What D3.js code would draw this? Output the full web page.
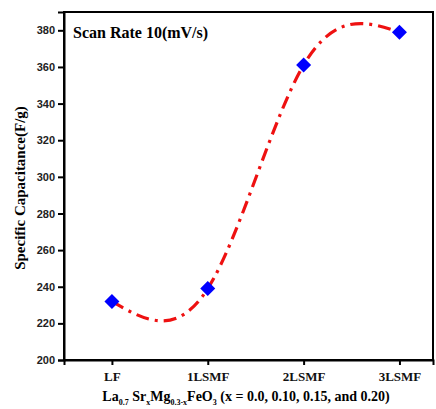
<!DOCTYPE html>
<html><head><meta charset="utf-8">
<script src="https://cdn.jsdelivr.net/npm/d3@7"></script>
<style>body{margin:0;background:#fff}</style>
</head><body><svg id="c" width="436" height="409"></svg>
<script>
const categories = ["LF", "1LSMF", "2LSMF", "3LSMF"];
const capacitance = [232, 239, 361, 379];
const yTicks = [200, 220, 240, 260, 280, 300, 320, 340, 360, 380];

const svg = d3.select("#c");
const L = 64, R = 433, T = 12, B = 360;
const x = d3.scaleLinear().domain([-0.5, 3.35]).range([L, R]);
const y = d3.scaleLinear().domain([200, 390]).range([B, T]);

// frame
svg.append("rect").attr("x", L).attr("y", T).attr("width", R - L).attr("height", B - T)
  .attr("fill", "none").attr("stroke", "#000").attr("stroke-width", 2);

// y axis
const ya = svg.append("g").attr("transform", `translate(${L},0)`)
  .call(d3.axisLeft(y).tickValues(yTicks).tickSize(6).tickPadding(3));
ya.select(".domain").attr("stroke-width", 2);
ya.selectAll(".tick line").attr("stroke-width", 2);
ya.selectAll("text").attr("font-family", "Liberation Sans, Arial").attr("font-weight", "bold")
  .attr("font-size", 11).attr("fill", "#222");

// x axis
const xa = svg.append("g").attr("transform", `translate(0,${B})`)
  .call(d3.axisBottom(x).tickValues(d3.range(categories.length)).tickFormat(i => categories[i]).tickSize(5).tickPadding(7));
xa.select(".domain").attr("stroke-width", 2);
xa.selectAll(".tick line").attr("stroke-width", 2);
xa.selectAll("text").attr("font-family", "Liberation Serif, Times New Roman").attr("font-weight", "bold")
  .attr("font-size", 13).attr("fill", "#111");

// curve
const line = d3.line().x((d, i) => x(i)).y(d => y(d)).curve(d3.curveNatural);
svg.append("path").datum(capacitance).attr("d", line).attr("fill", "none")
  .attr("stroke", "#ee1111").attr("stroke-width", 3.2)
  .attr("stroke-dasharray", "13,6,3,6").attr("stroke-linecap", "butt");

// markers
svg.selectAll(".m").data(capacitance).enter().append("path")
  .attr("transform", (d, i) => `translate(${x(i)},${y(d)})`)
  .attr("d", "M0,-7.5L7.5,0L0,7.5L-7.5,0Z").attr("fill", "#0000ff");

// annotation
svg.append("text").attr("x", 73).attr("y", 38).text("Scan Rate 10(mV/s)")
  .attr("font-family", "Liberation Serif, Times New Roman").attr("font-weight", "bold").attr("font-size", 16);

// y label
svg.append("text").attr("transform", "translate(25,188) rotate(-90)").attr("text-anchor", "middle")
  .text("Specific Capacitance(F/g)")
  .attr("font-family", "Liberation Serif, Times New Roman").attr("font-weight", "bold").attr("font-size", 15);

// x label with subscripts
const xl = svg.append("text").attr("x", 246).attr("y", 401).attr("text-anchor", "middle")
  .attr("font-family", "Liberation Serif, Times New Roman").attr("font-weight", "bold").attr("font-size", 14);
const parts = [["La", 0], ["0.7", 1], [" Sr", 0], ["x", 1], ["Mg", 0], ["0.3-x", 1], ["FeO", 0], ["3", 1], [" (x = 0.0, 0.10, 0.15, and 0.20)", 0]];
parts.forEach(([t, s], i) => {
  const prev = i > 0 ? parts[i - 1][1] : 0;
  const ts = xl.append("tspan").text(t)
    .attr("dy", s && !prev ? 4 : (!s && prev ? -4 : 0));
  if (s) ts.attr("font-size", 8);
});
</script></body></html>
